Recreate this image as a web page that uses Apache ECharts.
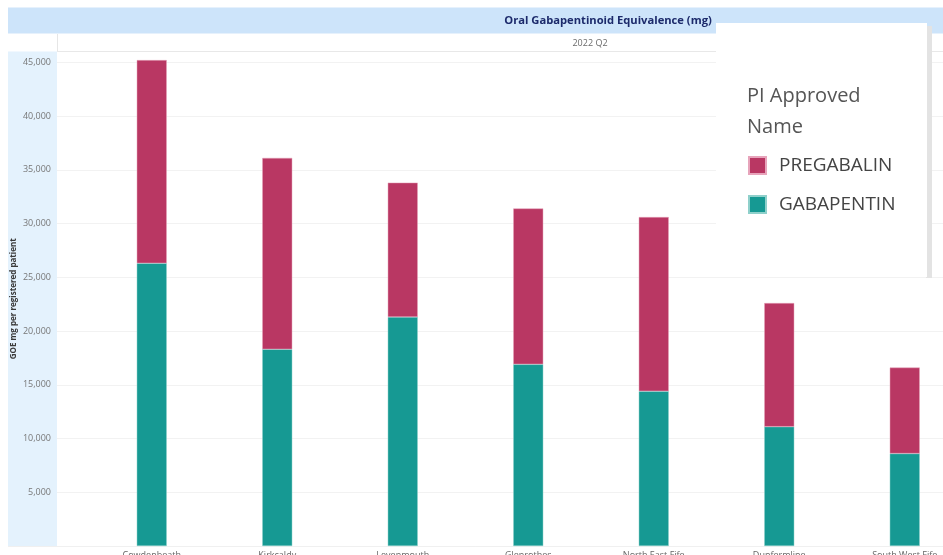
<!DOCTYPE html>
<html>
<head>
<meta charset="utf-8">
<title>Oral Gabapentinoid Equivalence (mg)</title>
<script src="https://cdn.jsdelivr.net/npm/echarts@6/dist/echarts.min.js"></script>
<style>
  html, body { margin: 0; padding: 0; background: #ffffff; }
  #chart { width: 943px; height: 555px; }
</style>
</head>
<body>
<div id="chart"></div>
<script>
// GOE mg per registered patient, 2022 Q2, by locality
const localities = ['Cowdenbeath', 'Kirkcaldy', 'Levenmouth', 'Glenrothes', 'North East Fife', 'Dunfermline', 'South West Fife'];
const gabapentin = [26300, 18300, 21300, 16900, 14400, 11100, 8600];
const pregabalin = [18900, 17800, 12500, 14500, 16200, 11500, 8000];
const seriesNames = ['PREGABALIN', 'GABAPENTIN'];
const chartTitle = 'Oral Gabapentinoid Equivalence (mg)';
const periodLabel = '2022 Q2';
const legendTitle = 'PI Approved\nName';
const yAxisTitle = 'GOE mg per registered patient';

const FONT = '"Open Sans", "Noto Sans", sans-serif';
const PINK = '#b93763';
const TEAL = '#169993';
const Y_MAX = 46000;

const chart = echarts.init(document.getElementById('chart'), null, { renderer: 'canvas' });

const fmt = v => v.toLocaleString('en-GB');

chart.setOption({
  animation: false,
  backgroundColor: '#ffffff',
  title: {
    text: legendTitle,
    left: 742,
    top: 76,
    z: 8,
    textStyle: { fontFamily: FONT, fontSize: 20, fontWeight: 'normal', color: '#555555', lineHeight: 31 }
  },
  legend: {
    data: seriesNames,
    orient: 'vertical',
    left: 743,
    top: 151,
    itemWidth: 17,
    itemHeight: 17,
    itemGap: 20,
    icon: 'rect',
    z: 8,
    textStyle: { fontFamily: FONT, fontSize: 19, color: '#444444', padding: [0, 0, 0, 8] }
  },
  graphic: [
    // header band
    { type: 'rect', z: 1, shape: { x: 8, y: 7.5, width: 935, height: 26 }, style: { fill: '#cde4fa' } },
    { type: 'text', z: 2, style: { x: 608, y: 21, text: chartTitle, fill: '#1c2a6b', font: 'bold 11.2px ' + FONT, align: 'center', verticalAlign: 'middle' } },
    // period row
    { type: 'line', z: 1, shape: { x1: 57.5, y1: 34, x2: 57.5, y2: 51 }, style: { stroke: '#e6e6e6', lineWidth: 1 } },
    { type: 'line', z: 1, shape: { x1: 57, y1: 51.5, x2: 943, y2: 51.5 }, style: { stroke: '#e8e8e8', lineWidth: 1 } },
    { type: 'text', z: 2, style: { x: 590, y: 43, text: periodLabel, fill: '#6b6b6b', font: '9px ' + FONT, align: 'center', verticalAlign: 'middle' } },
    // y-axis band
    { type: 'rect', z: -1, shape: { x: 8, y: 51.5, width: 49, height: 494.5 }, style: { fill: '#e4f2fd' } },
    { type: 'line', z: 1, shape: { x1: 8, y1: 546.5, x2: 943, y2: 546.5 }, style: { stroke: '#f0f0f0', lineWidth: 1 } },
    // legend panel
    { type: 'rect', z: 6, shape: { x: 926, y: 26, width: 6, height: 252 }, style: { fill: '#e3e3e3' } },
    { type: 'rect', z: 7, shape: { x: 716, y: 23, width: 211, height: 254 }, style: { fill: '#ffffff' } }
  ],
  grid: [
    { left: 57, right: 0, top: 51.5, bottom: 9, containLabel: false, outerBoundsMode: 'none' },
    { left: 89, right: -24.5, top: 51.5, bottom: 9, containLabel: false, outerBoundsMode: 'none' }
  ],
  xAxis: [
    { type: 'category', gridIndex: 0, data: localities, show: false },
    {
      type: 'category', gridIndex: 1, data: localities,
      axisLine: { show: false }, axisTick: { show: false },
      axisLabel: { fontFamily: FONT, fontSize: 9, color: '#666666', margin: 5, interval: 0 }
    }
  ],
  yAxis: [
    {
      type: 'value', gridIndex: 0, min: 0, max: Y_MAX, interval: 5000,
      name: yAxisTitle, nameLocation: 'middle', nameGap: 39, nameRotate: 90, nameMoveOverlap: false,
      nameTextStyle: { fontFamily: FONT, fontSize: 8, fontWeight: 'bold', color: '#3a3a3a' },
      axisLine: { show: false }, axisTick: { show: false },
      axisLabel: { fontFamily: FONT, fontSize: 9, color: '#777777', margin: 6, showMinLabel: false, showMaxLabel: false, formatter: fmt },
      splitLine: { lineStyle: { color: '#f2f2f2', width: 1 } }
    },
    {
      type: 'value', gridIndex: 1, min: 0, max: Y_MAX, interval: 5000, show: false,
      splitLine: { show: false }
    }
  ],
  series: [
    {
      name: seriesNames[1], type: 'bar', stack: 'goe', xAxisIndex: 1, yAxisIndex: 1,
      data: gabapentin, barWidth: 30,
      itemStyle: { color: TEAL, borderColor: '#8fd0cb', borderWidth: 0.5 }
    },
    {
      name: seriesNames[0], type: 'bar', stack: 'goe', xAxisIndex: 1, yAxisIndex: 1,
      data: pregabalin, barWidth: 30,
      itemStyle: { color: PINK, borderColor: '#e7a4bb', borderWidth: 0.5 }
    }
  ]
});
</script>
</body>
</html>
